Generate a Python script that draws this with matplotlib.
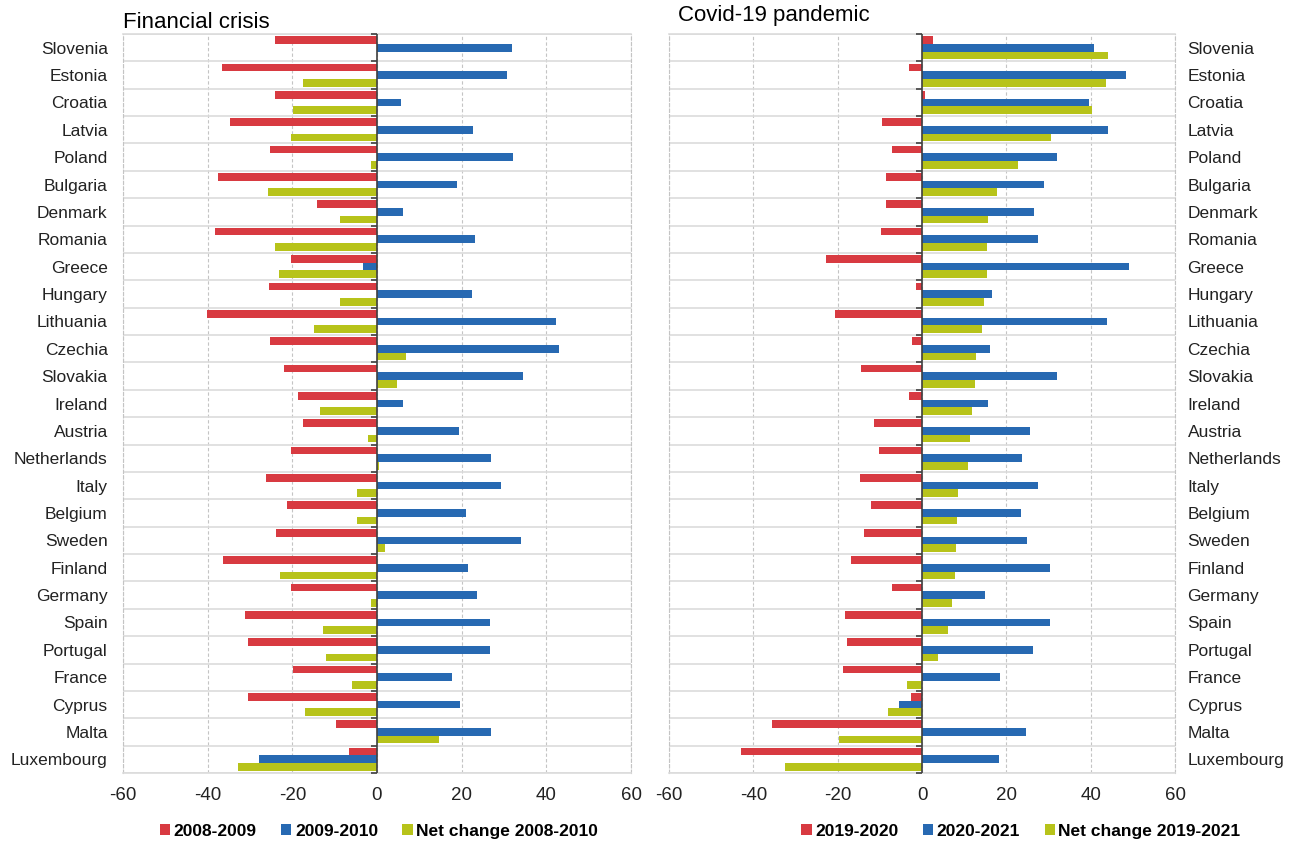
import numpy as np
import matplotlib
matplotlib.use("Agg")
import matplotlib.pyplot as plt
from matplotlib.patches import Patch

plt.rcParams["font.family"] = ["Liberation Sans", "DejaVu Sans"]

countries = [
    "Slovenia", "Estonia", "Croatia", "Latvia", "Poland", "Bulgaria", "Denmark",
    "Romania", "Greece", "Hungary", "Lithuania", "Czechia", "Slovakia", "Ireland",
    "Austria", "Netherlands", "Italy", "Belgium", "Sweden", "Finland", "Germany",
    "Spain", "Portugal", "France", "Cyprus", "Malta", "Luxembourg",
]

# Financial crisis
fc_0809 = [-24.2, -36.7, -24.2, -34.8, -25.2, -37.5, -14.1, -38.2, -20.4, -25.5,
           -40.1, -25.2, -22.0, -18.6, -17.5, -20.4, -26.2, -21.2, -23.9, -36.4,
           -20.2, -31.1, -30.5, -19.9, -30.5, -9.6, -6.6]
fc_0910 = [32.0, 30.6, 5.7, 22.6, 32.2, 19.0, 6.2, 23.2, -3.2, 22.4,
           42.3, 43.1, 34.6, 6.2, 19.3, 27.0, 29.3, 21.1, 34.1, 21.6,
           23.7, 26.7, 26.7, 17.6, 19.5, 27.0, -27.9]
fc_net = [0.0, -17.5, -19.8, -20.2, -1.4, -25.7, -8.8, -24.2, -23.1, -8.8,
          -14.8, 6.8, 4.7, -13.5, -2.1, 0.5, -4.8, -4.8, 2.0, -22.9,
          -1.4, -12.7, -12.0, -5.8, -17.0, 14.7, -32.9]

# Covid-19 pandemic
cv_1920 = [2.5, -3.2, 0.6, -9.4, -7.0, -8.6, -8.6, -9.7, -22.7, -1.5,
           -20.7, -2.4, -14.4, -3.1, -11.4, -10.3, -14.8, -12.1, -13.8, -16.8,
           -7.0, -18.3, -17.7, -18.8, -2.7, -35.6, -43.0]
cv_2021 = [40.7, 48.4, 39.6, 44.2, 32.1, 29.0, 26.6, 27.6, 49.2, 16.7,
           43.8, 16.1, 31.9, 15.6, 25.6, 23.8, 27.6, 23.5, 25.0, 30.3,
           15.0, 30.3, 26.3, 18.5, -5.5, 24.6, 18.3]
cv_net = [44.2, 43.6, 40.4, 30.5, 22.8, 17.9, 15.6, 15.3, 15.3, 14.8,
          14.3, 12.9, 12.6, 11.9, 11.5, 11.0, 8.6, 8.4, 8.1, 7.8,
          7.1, 6.2, 3.8, -3.5, -8.0, -19.6, -32.6]

xticks = [-60, -40, -20, 0, 20, 40, 60]
RED, BLUE, GREEN = "#D83A41", "#2769B2", "#B7C31A"

fig = plt.figure(figsize=(12.97, 8.46), dpi=100)
W, H = 1297, 846
ax1 = fig.add_axes([123 / W, 1 - 773 / H, (631 - 123) / W, (773 - 34) / H])
ax2 = fig.add_axes([669 / W, 1 - 773 / H, (1175 - 669) / W, (773 - 34) / H])


def draw_panel(ax, s1, s2, s3, labels_right=False):
    n = len(countries)
    y = np.arange(n)
    h = 0.28
    ax.barh(y - h, s1, height=h, color=RED, edgecolor="none", zorder=3)
    ax.barh(y, s2, height=h, color=BLUE, edgecolor="none", zorder=3)
    ax.barh(y + h, s3, height=h, color=GREEN, edgecolor="none", zorder=3)
    ax.set_xlim(-60, 60)
    ax.set_ylim(n - 0.5, -0.5)
    ax.set_xticks(xticks)
    ax.set_xticklabels([str(t) for t in xticks], fontsize=13.5)
    ax.set_yticks(y)
    ax.set_yticklabels(countries, fontsize=12.5)
    ax.set_yticks(np.arange(-0.5, n), minor=True)
    ax.tick_params(axis="x", length=0, pad=10, colors="#222222")
    ax.tick_params(axis="y", which="both", length=0, colors="#222222")
    if labels_right:
        ax.yaxis.tick_right()
        ax.tick_params(axis="y", pad=9)
        for lab in ax.get_yticklabels():
            lab.set_horizontalalignment("left")
    else:
        ax.tick_params(axis="y", pad=11)
    ax.grid(axis="x", which="major", color="#c4c4c4", linestyle=(0, (3, 2)), linewidth=0.8, zorder=0)
    ax.grid(axis="y", which="minor", color="#dcdcdc", linestyle="-", linewidth=1.2, zorder=0)
    ax.grid(axis="y", which="major", visible=False)
    for side in ["top", "bottom"]:
        ax.spines[side].set_color("#dcdcdc")
        ax.spines[side].set_linewidth(1.2)
    for side in ["left", "right"]:
        ax.spines[side].set_color("#c4c4c4")
        ax.spines[side].set_linestyle((0, (3, 2)))
        ax.spines[side].set_linewidth(0.8)
    ax.axvline(0, color="#404040", linewidth=1.2, zorder=4)
    ax.plot(np.zeros(n + 1), np.arange(-0.5, n), linestyle="", marker=0,
            markersize=4, color="#404040", markeredgewidth=1.2, zorder=4, clip_on=False)


draw_panel(ax1, fc_0809, fc_0910, fc_net)
draw_panel(ax2, cv_1920, cv_2021, cv_net, labels_right=True)

fig.text(123 / W, 1 - 28 / H, "Financial crisis", fontsize=16, va="baseline", ha="left")
fig.text(678 / W, 1 - 21 / H, "Covid-19 pandemic", fontsize=16, va="baseline", ha="left")


def add_legend(labels, xc):
    handles = [Patch(facecolor=c, edgecolor="none") for c in (RED, BLUE, GREEN)]
    fig.legend(handles, labels, loc="center", bbox_to_anchor=(xc / W, 1 - 831 / H),
               ncol=3, frameon=False, handlelength=0.6, handleheight=0.6,
               handletextpad=0.2, columnspacing=1.4,
               prop={"weight": "bold", "size": 12.5})


add_legend(["2008-2009", "2009-2010", "Net change 2008-2010"], 379)
add_legend(["2019-2020", "2020-2021", "Net change 2019-2021"], 1021)

fig.savefig("out.png", dpi=100)
